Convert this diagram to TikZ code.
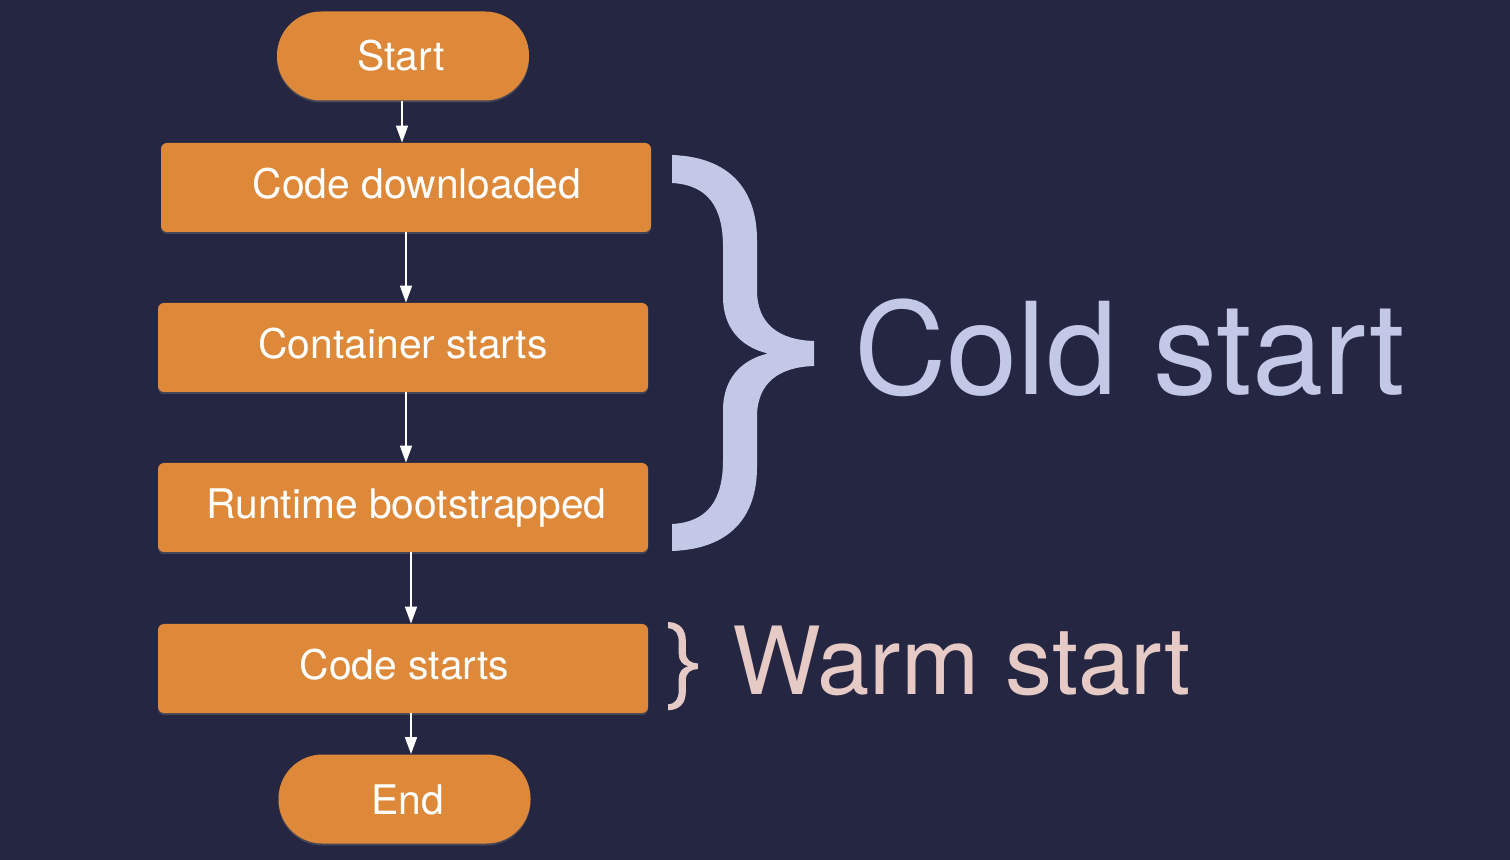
\documentclass[tikz,border=0pt]{standalone}
\usepackage{fontspec}
\setmainfont{TeX Gyre Heros}
\usetikzlibrary{arrows.meta,calc,shadows}
\definecolor{bgc}{HTML}{252742}
\definecolor{orangec}{HTML}{DD8939}
\definecolor{coldc}{HTML}{C3C8E6}
\definecolor{warmc}{HTML}{E6CAC6}
\begin{document}
\begin{tikzpicture}[x=0.5pt,y=-0.5pt,
  box/.style={fill=orangec, text=white, minimum width=245pt, minimum height=44.5pt,
    rounded corners=3pt, inner sep=0pt, text height=14pt, text depth=3pt,
    font=\fontsize{20.4}{24}\selectfont,
    drop shadow={shadow xshift=0pt, shadow yshift=-1pt, opacity=0.35}},
  term/.style={box, minimum width=126pt, rounded corners=22pt, text height=16pt, text depth=1pt},
  arr/.style={draw=white, line width=0.8pt, -{Triangle[width=6pt,length=8.5pt]}}]
\fill[bgc] (0,0) rectangle (1510,860);
\useasboundingbox (0,0) rectangle (1510,860);

\node[term] (start) at (403,56) {Start\hspace*{2pt}};
\node[box] (cd) at (406,187.5) {\hspace*{11pt}Code downloaded};
\node[box] (cs) at (403,347.5) {Container starts};
\node[box] (rb) at (403,507.5) {\hspace*{3.5pt}Runtime bootstrapped};
\node[box] (cst) at (403,668.5) {\hspace*{1.5pt}Code starts};
\node[term] (end) at (404.5,799) {\hspace*{3.5pt}End};

\draw[arr] ($(start.south)+(-1,0)$) -- ($(cd.north)+(-4,0)$);
\draw[arr] ($(cd.south)+(0,0)$) -- ($(cs.north)+(3,0)$);
\draw[arr] ($(cs.south)+(3,0)$) -- ($(rb.north)+(3,0)$);
\draw[arr] ($(rb.south)+(8,0)$) -- ($(cst.north)+(8,0)$);
\draw[arr] ($(cst.south)+(8,0)$) -- ($(end.north)+(6.5,0)$);

% cold start brace
\fill[coldc, shift={(672,155)}]
  (0,0) .. controls (58,2) and (85,35) .. (85,85) -- (85,135)
  .. controls (85,170) and (108,185) .. (142,186) -- (142,211)
  .. controls (108,212) and (85,227) .. (85,262) -- (85,312)
  .. controls (85,362) and (58,394) .. (0,396) -- (0,369)
  .. controls (36,367) and (51,345) .. (51,305) -- (51,255)
  .. controls (51,225) and (68,205) .. (96,198.5)
  .. controls (68,192) and (51,172) .. (51,142) -- (51,92)
  .. controls (51,52) and (36,30) .. (0,28) -- cycle;
% warm start brace
\fill[warmc, shift={(668,622)}, xscale=0.21, yscale=0.223]
  (0,0) .. controls (58,2) and (85,35) .. (85,85) -- (85,135)
  .. controls (85,170) and (108,185) .. (142,186) -- (142,211)
  .. controls (108,212) and (85,227) .. (85,262) -- (85,312)
  .. controls (85,362) and (58,394) .. (0,396) -- (0,369)
  .. controls (36,367) and (51,345) .. (51,305) -- (51,255)
  .. controls (51,225) and (68,205) .. (96,198.5)
  .. controls (68,192) and (51,172) .. (51,142) -- (51,92)
  .. controls (51,52) and (36,30) .. (0,28) -- cycle;

\node[anchor=base west, inner sep=0pt, text=coldc, font=\fontsize{64}{70}\selectfont] (cold) at (854,395) {Cold start};
\node[anchor=base west, inner sep=0pt, text=warmc, font=\fontsize{47}{52}\selectfont] (warm) at (732,695) {Warm start};
\end{tikzpicture}
\end{document}
